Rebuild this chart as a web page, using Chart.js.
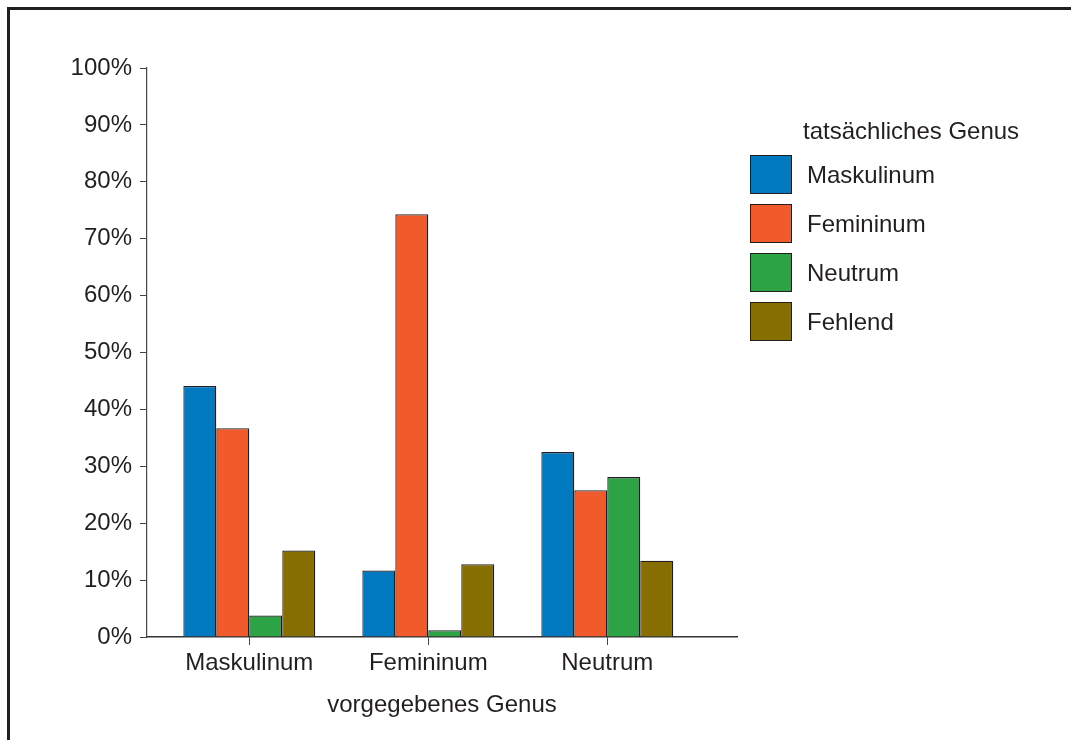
<!DOCTYPE html>
<html lang="de">
<head>
<meta charset="utf-8">
<title>Genus</title>
<script src="https://cdn.jsdelivr.net/npm/chart.js@4/dist/chart.umd.min.js"></script>
<style>
  body { margin: 0; background: #fff; font-family: 'Liberation Sans', Arial, sans-serif; color: #231f20; }
  #wrap { position: relative; width: 1071px; height: 740px; overflow: hidden; }
  #frame { position: absolute; left: 7px; top: 7px; width: 1200px; height: 900px;
           border-top: 3px solid #231f20; border-left: 3px solid #231f20; }
  #genusChart { position: absolute; left: 0; top: 0; }
  #legend { position: absolute; left: 750px; top: 114px; font-size: 24px; }
  #legend .title { margin-left: 53px; height: 31px; line-height: 34px; }
  #legend .item { display: flex; align-items: center; height: 39px; margin-top: 10px; }
  #legend .sw { width: 40px; height: 37px; border: 1px solid #231f20; margin-right: 15px; }
</style>
</head>
<body>
<div id="wrap">
  <div id="frame"></div>
  <canvas id="genusChart" width="1071" height="740"></canvas>
  <div id="legend"></div>
</div>
<script>
// vorgegebenes Genus (x) vs. tatsächliches Genus (Serien), Anteile in %
const CATEGORIES = ['Maskulinum', 'Femininum', 'Neutrum'];
const SERIES = ['Maskulinum', 'Femininum', 'Neutrum', 'Fehlend'];
const COLORS = ['#0079c1', '#f15a2b', '#2ca344', '#866f00'];

const maskulinumVals = [44.1, 11.7, 32.5];
const femininumVals = [36.7, 74.3, 25.8];
const neutrumVals = [3.8, 1.2, 28.1];
const fehlendVals = [15.2, 12.8, 13.4];

const Y_TICKS = [0, 10, 20, 30, 40, 50, 60, 70, 80, 90, 100];

const FONT = { family: "'Liberation Sans', Arial, sans-serif", size: 24 };
const INK = '#231f20';

document.addEventListener('DOMContentLoaded', () => {
    initChart();
    buildLegend();
});

function initChart() {
    const ctx = document.getElementById('genusChart').getContext('2d');
    const allVals = [maskulinumVals, femininumVals, neutrumVals, fehlendVals];

    new Chart(ctx, {
        type: 'bar',
        data: {
            datasets: SERIES.map((name, i) => ({
                label: name,
                data: allVals[i].map((v, k) => ({ x: k, y: v })),
                backgroundColor: COLORS[i],
                borderColor: INK,
                borderWidth: 1.3,
                categoryPercentage: 0.737,
                barPercentage: 1
            }))
        },
        options: {
            responsive: false,
            animation: false,
            layout: { padding: { left: 0, top: 68, right: 334, bottom: 20 } },
            plugins: { legend: { display: false }, tooltip: { enabled: false } },
            scales: {
                x: {
                    type: 'linear',
                    offset: false,
                    min: -0.5715,
                    max: 2.7246,
                    afterBuildTicks: s => { s.ticks = CATEGORIES.map((c, i) => ({ value: i })); },
                    afterFit: s => { s.height = 83; },
                    ticks: {
                        callback: v => CATEGORIES[v] ?? '',
                        color: INK, font: FONT, padding: 4, maxRotation: 0, autoSkip: false
                    },
                    grid: { offset: false, drawOnChartArea: false, tickLength: 8, color: '#444', lineWidth: 1 },
                    border: { color: '#333', width: 1.5 },
                    title: {
                        display: true, text: 'vorgegebenes Genus',
                        color: INK, font: FONT, padding: { top: 8, bottom: 0 }
                    }
                },
                y: {
                    min: 0,
                    max: 100,
                    afterBuildTicks: s => { s.ticks = Y_TICKS.map(v => ({ value: v })); },
                    afterFit: s => { s.width = 147; },
                    ticks: { callback: v => v + '%', color: INK, font: FONT, padding: 8 },
                    grid: { drawOnChartArea: false, tickLength: 7, color: '#444', lineWidth: 1 },
                    border: { color: '#444', width: 1.2 }
                }
            }
        }
    });
}

// ---- Legend (tatsächliches Genus) ----
function buildLegend() {
    const box = document.getElementById('legend');
    let html = '<div class="title">tatsächliches Genus</div>';
    SERIES.forEach((name, i) => {
        html += `<div class="item"><span class="sw" style="background:${COLORS[i]}"></span>${name}</div>`;
    });
    box.innerHTML = html;
}
</script>
</body>
</html>
